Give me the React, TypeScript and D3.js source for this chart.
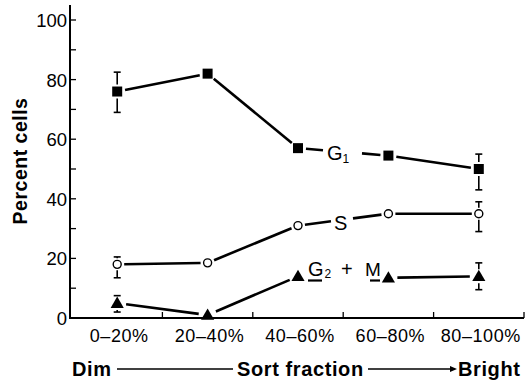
import React, { useEffect, useRef } from 'react';
import * as d3 from 'd3';

// Sort fractions (x categories)
const categories = ['0–20%', '20–40%', '40–60%', '60–80%', '80–100%'];

// Percent of cells in each phase
const g1Values = [76, 82, 57, 54.5, 50];
const sValues = [18, 18.5, 31, 35, 35];
const g2mValues = [5, 1, 14, 13.5, 14];

// Error bars: [category index, low, high]
const g1Errors: [number, number, number][] = [[0, 69, 82.5], [4, 43, 55]];
const sErrors: [number, number, number][] = [[0, 13.5, 20.5], [4, 29, 39]];
const g2mErrors: [number, number, number][] = [[0, 2, 7.5], [4, 9.5, 18.5]];

const yTicks = [0, 20, 40, 60, 80, 100];
const yMinorTicks = [10, 30, 50, 70, 90];

const FONT = '"Liberation Sans", Arial, Helvetica, sans-serif';

const App = () => {
  const svgRef = useRef<SVGSVGElement | null>(null);

  useEffect(() => {
    if (!svgRef.current) return;
    const svg = d3.select(svgRef.current);
    svg.selectAll('*').remove();

    const axisX = 70;
    const axisY = 318;

    const x = d3.scaleBand().domain(categories).range([72, 524]).padding(0);
    const y = d3.scaleLinear().domain([0, 100]).range([axisY, 20]);
    const cx = (i: number) => (x(categories[i]) as number) + x.bandwidth() / 2;

    // y axis
    svg.append('line')
      .attr('x1', axisX).attr('x2', axisX)
      .attr('y1', 5).attr('y2', axisY + 1)
      .attr('stroke', '#000').attr('stroke-width', 2);
    [...yTicks, ...yMinorTicks].forEach(t => {
      svg.append('line')
        .attr('x1', axisX).attr('x2', axisX + 6)
        .attr('y1', y(t)).attr('y2', y(t))
        .attr('stroke', '#000').attr('stroke-width', 1.3);
    });
    yTicks.forEach(t => {
      svg.append('text')
        .attr('x', axisX - 3).attr('y', y(t) + 7)
        .attr('text-anchor', 'end')
        .attr('font-family', FONT).attr('font-size', 18.5)
        .text(t);
    });

    // x axis
    svg.append('line')
      .attr('x1', axisX - 1).attr('x2', 524)
      .attr('y1', axisY).attr('y2', axisY)
      .attr('stroke', '#000').attr('stroke-width', 2);
    categories.forEach((c, i) => {
      const bx = (x(c) as number) + x.bandwidth();
      svg.append('line')
        .attr('x1', bx).attr('x2', bx)
        .attr('y1', axisY).attr('y2', axisY - 6)
        .attr('stroke', '#000').attr('stroke-width', 1.3);
      svg.append('text')
        .attr('x', cx(i) + 2).attr('y', 342)
        .attr('text-anchor', 'middle')
        .attr('font-family', FONT).attr('font-size', 18).attr('letter-spacing', 0.6)
        .text(c);
    });

    // y label
    svg.append('text')
      .attr('transform', 'translate(27,161) rotate(-90)')
      .attr('text-anchor', 'middle')
      .attr('font-family', FONT).attr('font-size', 19.5).attr('font-weight', 'bold')
      .attr('letter-spacing', 0.5)
      .text('Percent cells');

    // bottom caption
    const cap = svg.append('g')
      .attr('font-family', FONT).attr('font-size', 20).attr('font-weight', 'bold')
      .attr('letter-spacing', 0.6);
    cap.append('text').attr('x', 72).attr('y', 376).text('Dim');
    cap.append('text').attr('x', 237).attr('y', 376).text('Sort fraction');
    cap.append('text').attr('x', 458).attr('y', 376).text('Bright');
    svg.append('line').attr('x1', 117).attr('x2', 233).attr('y1', 369).attr('y2', 369)
      .attr('stroke', '#000').attr('stroke-width', 1.5);
    svg.append('line').attr('x1', 368).attr('x2', 452).attr('y1', 369).attr('y2', 369)
      .attr('stroke', '#000').attr('stroke-width', 1.5);
    svg.append('path').attr('d', 'M450,366 L457,369 L450,372 Z').attr('fill', '#000');

    // series lines with gaps at markers and around inline labels
    const drawSeries = (
      values: number[],
      gap: number,
      labelSeg: number,
      labelGap: [number, number]
    ) => {
      const g = svg.append('g').attr('stroke', '#000').attr('stroke-width', 2.6).attr('stroke-linecap', 'butt');
      for (let i = 0; i < values.length - 1; i++) {
        const x0 = cx(i), y0 = y(values[i]);
        const x1 = cx(i + 1), y1 = y(values[i + 1]);
        const len = Math.hypot(x1 - x0, y1 - y0);
        const pt = (d: number) => [x0 + (x1 - x0) * d / len, y0 + (y1 - y0) * d / len];
        const pieces: [number, number][] = [];
        if (i === labelSeg) {
          // labelGap expressed in x pixels from x0
          const a = labelGap[0] / (x1 - x0) * len;
          const b = labelGap[1] / (x1 - x0) * len;
          if (a > gap) pieces.push([gap, a]);
          if (b < len - gap) pieces.push([b, len - gap]);
        } else {
          pieces.push([gap, len - gap]);
        }
        pieces.forEach(([s, e]) => {
          const p0 = pt(s), p1 = pt(e);
          g.append('line').attr('x1', p0[0]).attr('y1', p0[1]).attr('x2', p1[0]).attr('y2', p1[1]);
        });
      }
    };

    drawSeries(g1Values, 8, 2, [25, 64]);
    drawSeries(sValues, 7, 2, [33, 55]);
    drawSeries(g2mValues, 9, 2, [0, 91]);

    // error bars
    const drawErrors = (errs: [number, number, number][], values: number[], gap: number) => {
      const g = svg.append('g').attr('stroke', '#000').attr('stroke-width', 1.6);
      errs.forEach(([i, lo, hi]) => {
        const px = cx(i), py = y(values[i]);
        g.append('line').attr('x1', px).attr('x2', px).attr('y1', y(hi)).attr('y2', py - gap);
        g.append('line').attr('x1', px).attr('x2', px).attr('y1', py + gap).attr('y2', y(lo));
        g.append('line').attr('x1', px - 3.5).attr('x2', px + 3.5).attr('y1', y(hi)).attr('y2', y(hi));
        g.append('line').attr('x1', px - 3.5).attr('x2', px + 3.5).attr('y1', y(lo)).attr('y2', y(lo));
      });
    };
    drawErrors(g1Errors, g1Values, 7);
    drawErrors(sErrors, sValues, 6);
    drawErrors(g2mErrors, g2mValues, 7);

    // markers
    g1Values.forEach((v, i) => {
      svg.append('rect')
        .attr('x', cx(i) - 5).attr('y', y(v) - 5)
        .attr('width', 10).attr('height', 10)
        .attr('fill', '#000');
    });
    sValues.forEach((v, i) => {
      svg.append('circle')
        .attr('cx', cx(i)).attr('cy', y(v)).attr('r', 4)
        .attr('fill', '#fff').attr('stroke', '#000').attr('stroke-width', 1.4);
    });
    const tri = d3.symbol().type(d3.symbolTriangle).size(75);
    g2mValues.forEach((v, i) => {
      svg.append('path')
        .attr('transform', `translate(${cx(i)},${y(v) + 1})`)
        .attr('d', tri() as string)
        .attr('fill', '#000');
    });

    // inline series labels
    const lab = svg.append('g').attr('font-family', FONT).attr('font-size', 20);
    const g1Label = lab.append('text').attr('x', 327).attr('y', 160);
    g1Label.append('tspan').text('G');
    g1Label.append('tspan').attr('font-size', 12).attr('dy', 3).text('1');

    lab.append('text').attr('x', 334).attr('y', 230).text('S');

    const g2Label = lab.append('text').attr('x', 308).attr('y', 276);
    g2Label.append('tspan').text('G');
    g2Label.append('tspan').attr('font-size', 12).attr('dx', 1).attr('dy', 2).text('2');
    lab.append('text').attr('x', 341).attr('y', 276).text('+');
    lab.append('text').attr('x', 365).attr('y', 276).attr('font-size', 19).text('M');
    // underlines beneath G and M
    svg.append('line').attr('x1', 308).attr('x2', 322).attr('y1', 280.5).attr('y2', 280.5)
      .attr('stroke', '#000').attr('stroke-width', 2.2);
    svg.append('line').attr('x1', 370).attr('x2', 380).attr('y1', 280.5).attr('y2', 280.5)
      .attr('stroke', '#000').attr('stroke-width', 2.2);
  }, []);

  return (
    <svg
      ref={svgRef}
      width={525}
      height={381}
      style={{ position: 'absolute', left: 0, top: 0, background: '#fff' }}
    />
  );
};

export default App;
